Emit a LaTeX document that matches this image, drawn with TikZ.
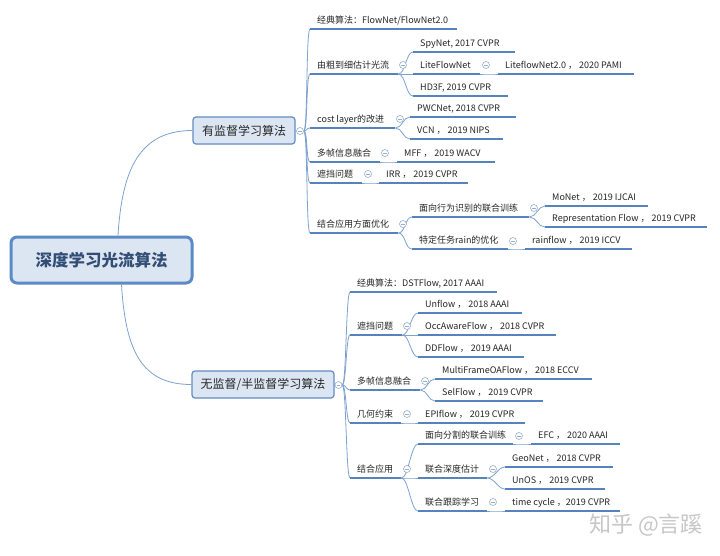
\documentclass[tikz,border=0pt]{standalone}
\usepackage{fontspec}
\newfontfamily\cjk{Noto Sans CJK SC}
\definecolor{boxfill}{RGB}{220,230,242}
\definecolor{boxline}{RGB}{100,140,195}
\definecolor{rootline}{RGB}{92,138,198}
\definecolor{roottxt}{RGB}{50,78,118}
\definecolor{uline}{RGB}{84,131,189}
\definecolor{connc}{RGB}{125,162,206}
\definecolor{togc}{RGB}{150,175,205}
\definecolor{txt}{RGB}{38,38,38}
\pgfdeclarelayer{paper}
\pgfdeclarelayer{lines}
\pgfsetlayers{paper,lines,main}
\newcommand\tpc[5]{\pgfmathsetmacro\tpw{#3-#2-14}%
  \node[topic] (#1) at (#2,#4) {\makebox[\tpw pt][l]{#5}};
  \draw[ulinestyle] (#1.south west) -- (#1.south east);}
\newcommand\cn[2]{\draw[conn] (#1.south east) .. controls +(7,0) and +(-7,0) .. (#2.south west);}
\newcommand\cnt[2]{\draw[conn] (#1.east) .. controls +(4,0) and +(-4,0) .. (#2.south west);}
\begin{document}
\begin{tikzpicture}[x=1pt,y=-1pt,
  topic/.style={anchor=south west, inner xsep=7pt, inner ysep=3.5pt, text height=7pt, text depth=2pt,
    font=\cjk\fontsize{9}{11}\selectfont, text=txt},
  ulinestyle/.style={draw=uline, line width=1.8pt},
  conn/.style={draw=connc, line width=0.8pt},
  tog/.style={circle, draw=togc, fill=white, line width=0.6pt, minimum size=7pt, inner sep=0pt,
    path picture={\draw[togc, line width=0.6pt] ([xshift=1.8pt]path picture bounding box.west) -- ([xshift=-1.8pt]path picture bounding box.east);}},
  l1box/.style={draw=boxline, fill=boxfill, line width=1.2pt, rounded corners=3pt,
    minimum height=27pt, font=\cjk\fontsize{12}{14}\selectfont, text=txt},
  rootbox/.style={draw=rootline, fill=boxfill, line width=3pt, rounded corners=6pt,
    minimum width=181pt, minimum height=46pt, font=\cjk\bfseries\fontsize{16.5}{18}\selectfont, text=roottxt},
  wm/.style={font=\cjk\fontsize{22}{24}\selectfont, text=black!22}
]
\begin{pgfonlayer}{paper}
\useasboundingbox[fill=white] (0,0) rectangle (720,555);
\end{pgfonlayer}

% root and level 1
\node[rootbox] (root) at (101.5,260) {深度学习光流算法};
\node[l1box, minimum width=102pt] (sup) at (244,130.5) {有监督学习算法};
\node[l1box, minimum width=142pt] (uns) at (263,384.5) {无监督/半监督学习算法};

% supervised
\tpc{s1}{310}{457}{29}{经典算法：FlowNet/FlowNet2.0}
\tpc{s2}{310}{398}{74}{由粗到细估计光流}
\tpc{s21}{413}{515}{52}{SpyNet, 2017 CVPR}
\tpc{s22}{413}{480}{74}{LiteFlowNet}
\tpc{s221}{498}{634}{74}{LiteflowNet2.0 ， 2020 PAMI}
\tpc{s23}{413}{508}{96}{HD3F, 2019 CVPR}
\tpc{s3}{310}{395}{128}{cost layer的改进}
\tpc{s31}{410}{516}{117}{PWCNet, 2018 CVPR}
\tpc{s32}{410}{503}{139}{VCN ， 2019 NIPS}
\tpc{s4}{310}{380}{162}{多帧信息融合}
\tpc{s41}{397}{495}{162}{MFF ， 2019 WACV}
\tpc{s5}{310}{362}{183}{遮挡问题}
\tpc{s51}{379}{468}{183}{IRR ， 2019 CVPR}
\tpc{s6}{310}{398}{233}{结合应用方面优化}
\tpc{s61}{412}{529}{217}{面向行为识别的联合训练}
\tpc{s611}{545}{648}{206}{MoNet ， 2019 IJCAI}
\tpc{s612}{545}{707}{227}{Representation Flow ， 2019 CVPR}
\tpc{s62}{412}{508}{249}{特定任务rain的优化}
\tpc{s621}{525}{632}{249}{rainflow ， 2019 ICCV}

% unsupervised
\tpc{u1}{350}{497}{292}{经典算法：DSTFlow, 2017 AAAI}
\tpc{u2}{350}{402}{335}{遮挡问题}
\tpc{u21}{418}{522}{313}{Unflow ， 2018 AAAI}
\tpc{u22}{418}{556}{335}{OccAwareFlow ， 2018 CVPR}
\tpc{u23}{418}{524}{357}{DDFlow ， 2019 AAAI}
\tpc{u3}{350}{420}{390}{多帧信息融合}
\tpc{u31}{435}{592}{379}{MultiFrameOAFlow ， 2018 ECCV}
\tpc{u32}{435}{543}{401}{SelFlow ， 2019 CVPR}
\tpc{u4}{350}{401}{423}{几何约束}
\tpc{u41}{418}{525}{423}{EPIflow ， 2019 CVPR}
\tpc{u5}{350}{401}{478}{结合应用}
\tpc{u51}{418}{513}{444}{面向分割的联合训练}
\tpc{u511}{531}{620}{444}{EFC ， 2020 AAAI}
\tpc{u52}{418}{487}{478}{联合深度估计}
\tpc{u521}{505}{613}{467}{GeoNet ， 2018 CVPR}
\tpc{u522}{505}{605}{489}{UnOS ， 2019 CVPR}
\tpc{u53}{418}{487}{511}{联合跟踪学习}
\tpc{u531}{505}{620}{511}{time cycle ，2019 CVPR}

% collapse markers
\node[tog] (supc) at (300,131) {};
\node[tog] (unsc) at (338.5,385) {};
\node[tog] (s2t) at (403,65) {};
\node[tog] (s22t) at (486,65) {};
\node[tog] (s3t) at (400,119) {};
\node[tog] (s4t) at (385,153) {};
\node[tog] (s5t) at (368,174) {};
\node[tog] (s6t) at (403,224) {};
\node[tog] (s61t) at (534,208) {};
\node[tog] (s62t) at (513,241) {};
\node[tog] (u2t) at (407,326) {};
\node[tog] (u3t) at (425,381) {};
\node[tog] (u4t) at (407,414) {};
\node[tog] (u5t) at (407,469) {};
\node[tog] (u51t) at (519,436) {};
\node[tog] (u52t) at (493,469) {};
\node[tog] (u53t) at (493,502) {};

% connectors (behind the nodes)
\begin{pgfonlayer}{lines}
\draw[conn] ([xshift=16.5pt]root.north) .. controls +(4,-66) and +(-53,0) .. (sup.west);
\draw[conn] ([xshift=20pt]root.south) .. controls +(4,66) and +(-50,0) .. (uns.west);
\draw[conn] (sup.east) -- (supc.west);
\draw[conn] (uns.east) -- (unsc.west);
\foreach \c in {s1,s2,s3,s4,s5,s6} {\cnt{supc}{\c}}
\foreach \c in {u1,u2,u3,u4,u5} {\cnt{unsc}{\c}}
\cn{s2}{s21} \cn{s2}{s22} \cn{s2}{s23} \cn{s22}{s221}
\cn{s3}{s31} \cn{s3}{s32} \cn{s4}{s41} \cn{s5}{s51}
\cn{s6}{s61} \cn{s6}{s62} \cn{s61}{s611} \cn{s61}{s612} \cn{s62}{s621}
\cn{u2}{u21} \cn{u2}{u22} \cn{u2}{u23}
\cn{u3}{u31} \cn{u3}{u32} \cn{u4}{u41}
\cn{u5}{u51} \cn{u5}{u52} \cn{u5}{u53}
\cn{u51}{u511} \cn{u52}{u521} \cn{u52}{u522} \cn{u53}{u531}
\end{pgfonlayer}

\node[wm] (wm) at (646,525) {知乎 @言蹊};
\end{tikzpicture}
\end{document}
